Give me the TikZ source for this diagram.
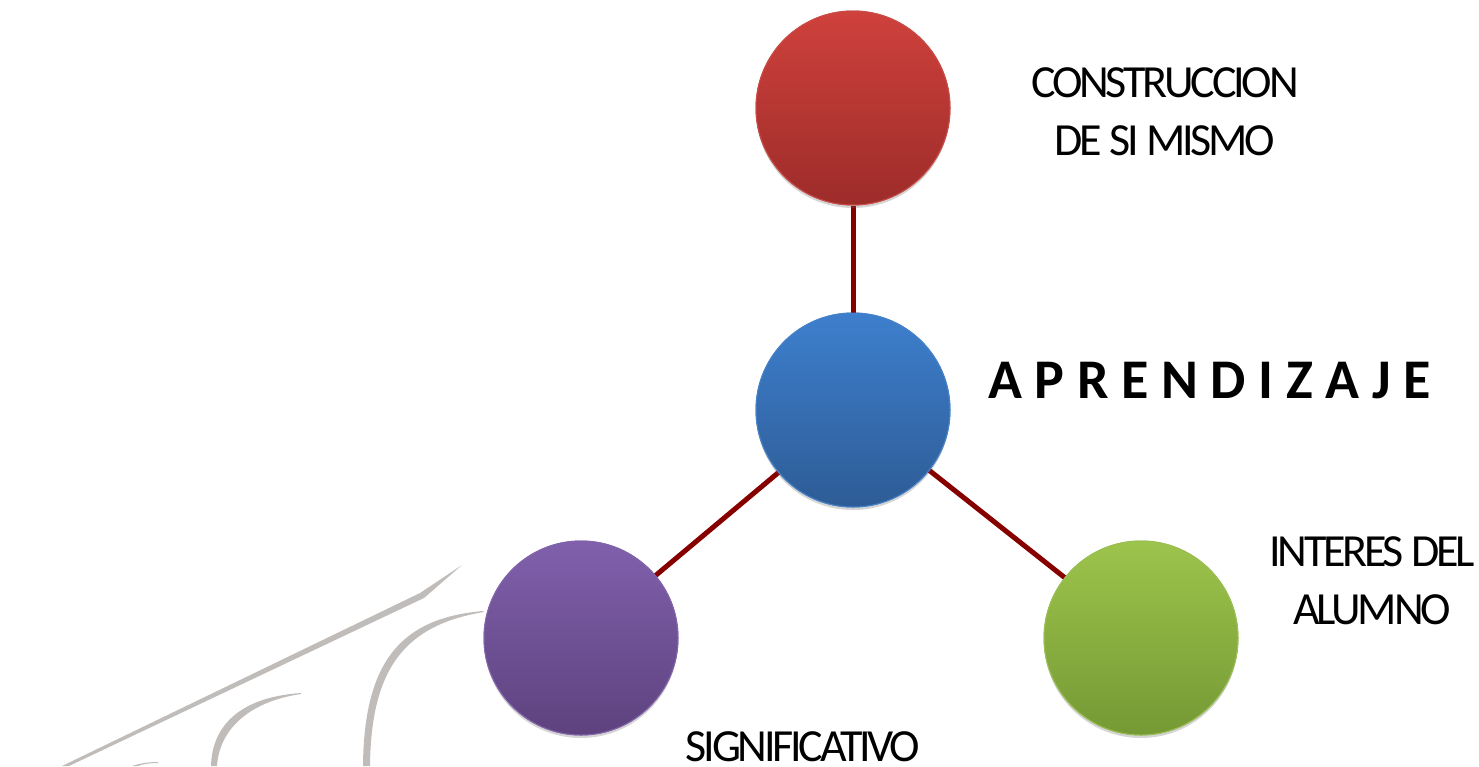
\documentclass[tikz,border=0pt]{standalone}
\usepackage{fontspec}
\setmainfont{Carlito}
\newfontfamily\tightfont[LetterSpace=-7]{Carlito}
\newfontfamily\widefont[LetterSpace=22.5]{Carlito Bold}
\usetikzlibrary{shadows}
\definecolor{linkred}{RGB}{135,0,0}
\definecolor{decogray}{RGB}{192,188,186}
\tikzset{
  ball/.style={circle, inner sep=0pt, minimum size=194pt, line width=1pt,
    drop shadow={opacity=0.18, shadow xshift=0pt, shadow yshift=-3pt}},
  redball/.style={ball, top color={rgb,255:red,207;green,65;blue,60}, bottom color={rgb,255:red,157;green,44;blue,42}, draw={rgb,255:red,200;green,75;blue,70}},
  blueball/.style={ball, top color={rgb,255:red,61;green,127;blue,205}, bottom color={rgb,255:red,46;green,92;blue,150}, draw={rgb,255:red,70;green,130;blue,200}},
  purpleball/.style={ball, top color={rgb,255:red,128;green,96;blue,172}, bottom color={rgb,255:red,93;green,66;blue,126}, draw={rgb,255:red,130;green,100;blue,170}},
  greenball/.style={ball, top color={rgb,255:red,157;green,196;blue,76}, bottom color={rgb,255:red,117;green,153;blue,52}, draw={rgb,255:red,155;green,190;blue,85}},
  link/.style={draw=linkred, line width=5pt},
  lbl/.style={inner sep=0pt, align=center, font=\tightfont\fontsize{46}{58}\selectfont},
  deco/.style={fill=decogray, draw=none}
}
\begin{document}
\begin{tikzpicture}[x=1pt,y=-1pt]
\useasboundingbox (0,0) rectangle (1479,766);
% decorative gray strokes
\fill[deco] (62,766) -- (420,593) -- (462,565) -- (424,598) -- (69,766) -- cycle;
\fill[deco] (483,611) .. controls (402,618) and (364,660) .. (363,766) -- (370,766) .. controls (371,668) and (405,625) .. (484,612) -- cycle;
\fill[deco] (301,693) .. controls (241,697) and (212,725) .. (211,766) -- (217,766) .. controls (219,732) and (246,702) .. (301,694) -- cycle;
\fill[deco] (158,762) .. controls (146,762) and (138,764) .. (132,766) -- (138,766) .. controls (143,764) and (150,763) .. (158,763) -- cycle;
% nodes
\node[redball] (top) at (853,108) {};
\node[blueball] (mid) at (853,410) {};
\node[purpleball] (left) at (581,638) {};
\node[greenball] (right) at (1141,638) {};
% connectors
\draw[link] (top) -- (mid);
\draw[link] (mid) -- (left);
\draw[link] (mid) -- (right);
% redraw balls over link ends
\node[redball] at (853,108) {};
\node[blueball] at (853,410) {};
\node[purpleball] at (581,638) {};
\node[greenball] at (1141,638) {};
% labels
\node[lbl] (ltop) at (1165,112) {CONSTRUCCION\\DE SI MISMO};
\node[inner sep=0pt, anchor=base west, font=\widefont\fontsize{56}{60}\selectfont] (lmid) at (988,398) {APRENDIZAJE};
\node[lbl] (lright) at (1372,581) {INTERES DEL\\ALUMNO};
\node[lbl] (lleft) at (803,747) {SIGNIFICATIVO};
\end{tikzpicture}
\end{document}
